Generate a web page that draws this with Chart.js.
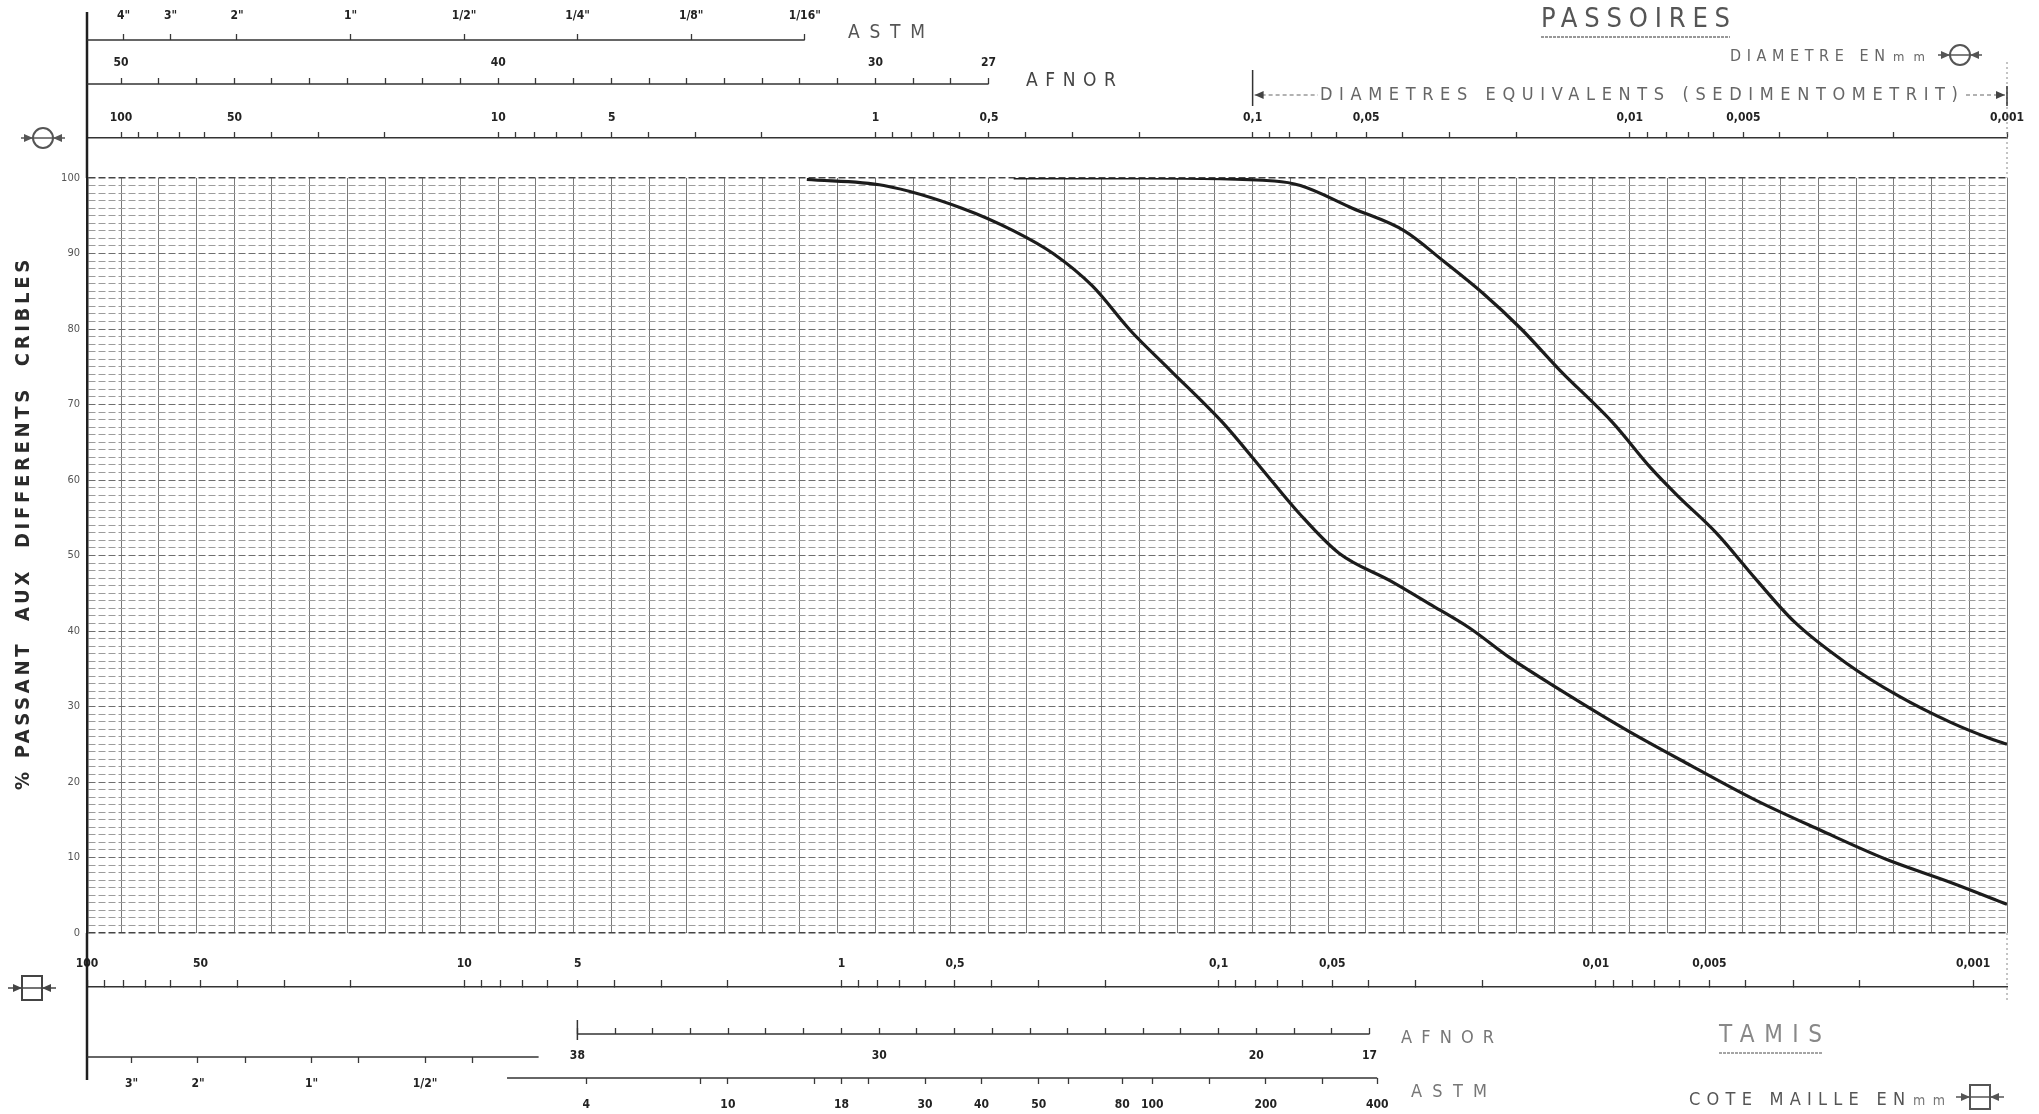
<!DOCTYPE html>
<html>
<head>
<meta charset="utf-8">
<title>Analyse granulométrique</title>
<script src="https://cdn.jsdelivr.net/npm/chart.js@4.4.1/dist/chart.umd.min.js"></script>
<style>
  html, body { margin: 0; padding: 0; background: #ffffff; }
  canvas { display: block; }
</style>
</head>
<body>
<canvas id="c" width="2039" height="1114"></canvas>
<script>
// ---- Passing percentage ticks (labelled every 10 %) ----
const percentTickLabels = [0, 10, 20, 30, 40, 50, 60, 70, 80, 90, 100];

// ---- Diameter scales (mm), labelled values ----
const mmTickLabels = [100, 50, 10, 5, 1, 0.5, 0.1, 0.05, 0.01, 0.005, 0.001];

// ---- ASTM sieves above the chart (inches) ----
const astmTopInches = [4, 3, 2, 1, 0.5, 0.25, 0.125, 0.0625];
const astmTopLabels = ['4"', '3"', '2"', '1"', '1/2"', '1/4"', '1/8"', '1/16"'];

// ---- AFNOR modules ----
const afnorTopModules = [50, 49, 48, 47, 46, 45, 44, 43, 42, 41, 40, 39, 38, 37, 36, 35, 34, 33, 32, 31, 30, 29, 28, 27];
const afnorTopLabelled = [50, 40, 30, 27];
const afnorBottomModules = [38, 37, 36, 35, 34, 33, 32, 31, 30, 29, 28, 27, 26, 25, 24, 23, 22, 21, 20, 19, 18, 17];
const afnorBottomLabelled = [38, 30, 20, 17];

// ---- ASTM sieves below the chart ----
const astmBottomInches = [3, 2, 1.5, 1, 0.75, 0.5, 0.375];
const astmBottomLabels = ['3"', '2"', '', '1"', '', '1/2"', ''];
const astmMeshNumbers  = [4, 8, 10, 16, 18, 20, 30, 40, 50, 60, 80, 100, 140, 200, 270, 400];
const astmMeshOpenings = [4.75, 2.36, 2.0, 1.18, 1.0, 0.85, 0.6, 0.425, 0.3, 0.25, 0.18, 0.15, 0.106, 0.075, 0.053, 0.038];
const astmMeshLabelled = [4, 10, 18, 30, 40, 50, 80, 100, 200, 400];

// ---- Grading curves: diameter (mm) / % passing ----
const sampleADiameters = [1.52, 0.95, 0.59, 0.43, 0.338, 0.266, 0.21, 0.165, 0.12, 0.095, 0.075, 0.059, 0.043, 0.034, 0.0266, 0.021, 0.0153, 0.0103, 0.0069, 0.00464, 0.00312, 0.0021, 0.00141, 0.001];
const sampleAPassing   = [99.8, 99, 96, 93, 90, 85.7, 79.7, 74.5, 67.6, 61.6, 55.5, 50.3, 46.6, 43.6, 40.4, 36.6, 32.2, 27, 22.2, 17.6, 13.6, 9.8, 6.7, 3.8];
const sampleBDiameters = [0.43, 0.194, 0.0876, 0.0747, 0.0544, 0.0396, 0.0312, 0.0246, 0.0194, 0.0153, 0.0111, 0.0088, 0.0075, 0.0059, 0.00464, 0.00366, 0.00266, 0.00194, 0.00141, 0.0011, 0.001];
const sampleBPassing   = [100, 100, 99.6, 99, 96, 93, 89, 84.8, 80, 74.5, 67.6, 61.6, 58, 53, 46.9, 41.2, 35.7, 31.4, 27.9, 25.7, 25];

// ---- Scale ranges ----
const FONT = "'Liberation Sans Narrow','DejaVu Sans Condensed','Roboto Condensed','Liberation Sans',Arial,sans-serif";
const gridMin = 0.001, gridMax = 123.1;     // sieve diameters above the chart, and the chart grid
const lowMin = 0.000813, lowMax = 100;      // sieve openings below the chart
const astmShift = 1.031;                    // inch row is printed a hair to the right
const inchRuleEndMm = 6.35;
const meshRuleStartMm = 7.7;

const fmtMm = v => String(v).replace('.', ',');

// mm tick marks: 1..9 x 10^k
function decadeMarks(hi, lo) {
  const out = [];
  for (let e = 2; e >= -4; e--) {
    for (let m = 9; m >= 1; m--) {
      const v = +(m * Math.pow(10, e)).toPrecision(6);
      if (v <= hi + 1e-9 && v >= lo - 1e-12) out.push(v);
    }
  }
  return out;
}
const mmMarks = decadeMarks(100, 0.001).map(v => ({ value: v, t: mmTickLabels.includes(v) ? fmtMm(v) : '' }));

// chart grid: one vertical line every tenth of a decade
const gridLines = [];
for (let k = 0; k <= 50; k++) gridLines.push(Math.pow(10, 2 - k / 10));

const astmTopMarks = astmTopInches.map((v, i) => ({ value: v * 25.4, t: astmTopLabels[i] }));
const afnorTopMarks = afnorTopModules.map(m => ({ value: Math.pow(10, (m - 30) / 10), t: afnorTopLabelled.includes(m) ? String(m) : '' }));
const afnorLowMarks = afnorBottomModules.map(m => ({ value: Math.pow(10, (m - 31) / 10), t: afnorBottomLabelled.includes(m) ? String(m) : '' }));
const astmInchMarks = astmBottomInches.map((v, i) => ({ value: v * 25.4, t: astmBottomLabels[i] }));
const astmMeshMarks = astmMeshNumbers.map((n, i) => ({ value: astmMeshOpenings[i], t: astmMeshLabelled.includes(n) ? String(n) : '' }));

// One printed scale row. Labels are mirrored (no clipping to the row box),
// and labelOffset is the vertical distance from the rule to the label centre
// (negative = above the rule).
const LH2 = 7.2; // half line height of the 12px label font
function row(position, weight, min, max, marks, height, tickLength, labelOffset, showBorder) {
  const padding = position === 'top' ? labelOffset - LH2 : -labelOffset - LH2;
  return {
    type: 'logarithmic', position, weight, reverse: true, min, max, bounds: 'data',
    afterBuildTicks: s => { s.ticks = marks.map(o => ({ value: o.value, t: o.t })); },
    afterFit: s => { s.height = height; },
    border: { display: showBorder, color: '#333333', width: 1.5 },
    grid: { drawOnChartArea: false, drawTicks: true, tickLength, tickColor: '#383838', tickWidth: 1.3 },
    ticks: {
      mirror: true, autoSkip: false, maxRotation: 0, minRotation: 0, padding,
      color: '#222222', font: { family: FONT, size: 12, weight: 'bold' },
      callback: (v, i, t) => t[i].t
    }
  };
}

function spacedText(ctx, text, x0, x1, y, font, color) {
  ctx.font = font;
  ctx.fillStyle = color;
  ctx.textBaseline = 'middle';
  ctx.textAlign = 'left';
  ctx.letterSpacing = '0px';
  const w = ctx.measureText(text).width;
  const n = [...text].length;
  const ls = n > 1 ? (x1 - x0 - w) / (n - 1) : 0;
  ctx.letterSpacing = ls.toFixed(2) + 'px';
  ctx.fillText(text, x0, y);
  ctx.letterSpacing = '0px';
}

function rule(ctx, x0, x1, y, w, col, dash) {
  ctx.save();
  ctx.strokeStyle = col; ctx.lineWidth = w; ctx.setLineDash(dash || []);
  ctx.beginPath(); ctx.moveTo(x0, y); ctx.lineTo(x1, y); ctx.stroke();
  ctx.restore();
}
function vrule(ctx, x, y0, y1, w, col, dash) {
  ctx.save();
  ctx.strokeStyle = col; ctx.lineWidth = w; ctx.setLineDash(dash || []);
  ctx.beginPath(); ctx.moveTo(x, y0); ctx.lineTo(x, y1); ctx.stroke();
  ctx.restore();
}
function arrowHead(ctx, x, y, dir, col) {
  ctx.save();
  ctx.fillStyle = col;
  ctx.beginPath();
  ctx.moveTo(x, y); ctx.lineTo(x - dir * 9, y - 4); ctx.lineTo(x - dir * 9, y + 4); ctx.closePath();
  ctx.fill();
  ctx.restore();
}
// round sieve (passoire) symbol
function passoireIcon(ctx, cx, cy, col) {
  ctx.save();
  ctx.strokeStyle = col; ctx.lineWidth = 2;
  ctx.beginPath(); ctx.arc(cx, cy, 10, 0, Math.PI * 2); ctx.stroke();
  ctx.lineWidth = 1.3;
  ctx.beginPath(); ctx.moveTo(cx - 22, cy); ctx.lineTo(cx + 22, cy); ctx.stroke();
  arrowHead(ctx, cx - 10, cy, 1, col);
  arrowHead(ctx, cx + 10, cy, -1, col);
  ctx.restore();
}
// square mesh (tamis) symbol
function tamisIcon(ctx, cx, cy, col) {
  ctx.save();
  ctx.strokeStyle = col; ctx.lineWidth = 2;
  ctx.strokeRect(cx - 10, cy - 12, 20, 24);
  ctx.lineWidth = 1.3;
  ctx.beginPath(); ctx.moveTo(cx - 24, cy); ctx.lineTo(cx + 24, cy); ctx.stroke();
  arrowHead(ctx, cx - 10, cy, 1, col);
  arrowHead(ctx, cx + 10, cy, -1, col);
  ctx.restore();
}

const decor = {
  id: 'decor',
  afterDraw(chart) {
    const { ctx, chartArea: a, scales: S } = chart;
    ctx.save();
    const ink = '#333333', soft = '#666666';

    // long form border on the left, dotted edge on the right
    vrule(ctx, a.left, 12, a.top, 2.5, '#1f1f1f');
    vrule(ctx, a.left, a.bottom, 1080, 2.5, '#1f1f1f');
    vrule(ctx, a.right, 62, a.top, 1, '#888888', [2, 3]);
    vrule(ctx, a.right, a.bottom, 1000, 1, '#888888', [2, 3]);

    // partial scale rules
    const yA = S.astmTop.bottom;
    const xAend = S.astmTop.getPixelForValue(astmTopInches[astmTopInches.length - 1] * 25.4);
    rule(ctx, a.left, xAend, yA, 1.5, ink);
    const yF = S.afnorTop.bottom;
    const xFend = S.afnorTop.getPixelForValue(afnorTopMarks[afnorTopMarks.length - 1].value);
    rule(ctx, a.left, xFend, yF, 1.5, ink);
    const yFL = S.afnorLow.top;
    rule(ctx, S.afnorLow.getPixelForValue(afnorLowMarks[0].value), S.afnorLow.getPixelForValue(afnorLowMarks[afnorLowMarks.length - 1].value), yFL, 1.5, ink);
    vrule(ctx, S.afnorLow.getPixelForValue(afnorLowMarks[0].value), yFL - 14, yFL + 6, 1.5, ink);
    const yI = S.astmInch.top;
    rule(ctx, a.left, S.astmInch.getPixelForValue(inchRuleEndMm), yI, 1.5, ink);
    const yM = S.astmMesh.top;
    rule(ctx, S.astmMesh.getPixelForValue(meshRuleStartMm), S.astmMesh.getPixelForValue(astmMeshOpenings[astmMeshOpenings.length - 1]), yM, 1.5, ink);

    // row captions
    spacedText(ctx, 'ASTM', 848, 925, 33, '19px ' + FONT, '#555555');
    spacedText(ctx, 'AFNOR', 1026, 1116, 81, '19px ' + FONT, '#444444');
    spacedText(ctx, 'PASSOIRES', 1541, 1730, 20, '27px ' + FONT, '#555555');
    rule(ctx, 1541, 1730, 37, 1.5, '#777777', [3, 1]);
    spacedText(ctx, 'DIAMETRE EN', 1730, 1885, 57, '16px ' + FONT, soft);
    spacedText(ctx, 'mm', 1893, 1925, 58, '13px ' + FONT, soft);
    passoireIcon(ctx, 1960, 55, '#555555');
    passoireIcon(ctx, 43, 138, '#555555');

    // sedimentation range bracket (0,1 mm to 0,001 mm)
    const xs0 = S.x.getPixelForValue(0.1);
    vrule(ctx, xs0, 70, 106, 1.5, ink);
    vrule(ctx, a.right, 86, 106, 1.5, ink);
    rule(ctx, xs0 + 2, 1318, 95, 1.2, soft, [4, 3]);
    arrowHead(ctx, xs0 + 2, 95, -1, '#444444');
    spacedText(ctx, 'DIAMETRES EQUIVALENTS (SEDIMENTOMETRIT)', 1320, 1958, 95, '18px ' + FONT, soft);
    rule(ctx, 1966, a.right - 2, 95, 1.2, soft, [4, 3]);
    arrowHead(ctx, a.right - 2, 95, 1, '#444444');

    // captions below the chart
    spacedText(ctx, 'AFNOR', 1401, 1494, 1038, '18px ' + FONT, '#777777');
    spacedText(ctx, 'ASTM', 1411, 1487, 1092, '18px ' + FONT, '#777777');
    spacedText(ctx, 'TAMIS', 1719, 1822, 1036, '24px ' + FONT, '#888888');
    rule(ctx, 1719, 1822, 1053, 1.5, '#888888', [3, 1]);
    spacedText(ctx, 'COTE MAILLE EN', 1689, 1905, 1100, '18px ' + FONT, '#555555');
    spacedText(ctx, 'mm', 1913, 1945, 1101, '14px ' + FONT, '#777777');
    tamisIcon(ctx, 1980, 1097, '#555555');
    tamisIcon(ctx, 32, 988, '#444444');

    // vertical axis title
    ctx.save();
    ctx.translate(24, 525);
    ctx.rotate(-Math.PI / 2);
    spacedText(ctx, '% PASSANT  AUX  DIFFERENTS  CRIBLES', -265, 265, 0, 'bold 20px ' + FONT, '#2a2a2a');
    ctx.restore();

    ctx.restore();
  }
};

new Chart(document.getElementById('c'), {
  type: 'line',
  data: {
    datasets: [
      {
        label: 'A',
        data: sampleADiameters.map((d, i) => ({ x: d, y: sampleAPassing[i] })),
        xAxisID: 'x', yAxisID: 'y',
        borderColor: '#1c1c1c', borderWidth: 3.2, pointRadius: 0, cubicInterpolationMode: 'monotone', fill: false
      },
      {
        label: 'B',
        data: sampleBDiameters.map((d, i) => ({ x: d, y: sampleBPassing[i] })),
        xAxisID: 'x', yAxisID: 'y',
        borderColor: '#1c1c1c', borderWidth: 3.2, pointRadius: 0, cubicInterpolationMode: 'monotone', fill: false
      }
    ]
  },
  options: {
    responsive: false,
    animation: false,
    devicePixelRatio: 1,
    layout: { padding: { left: 0, right: 32, top: 0, bottom: 0 } },
    plugins: { legend: { display: false }, tooltip: { enabled: false }, title: { display: false } },
    scales: {
      // rows above the chart (outermost first by weight)
      astmTop: row('top', 4, gridMin * astmShift, gridMax * astmShift, astmTopMarks, 40, 6, -24, false),
      afnorTop: row('top', 3, gridMin, gridMax, afnorTopMarks, 44, 6, -21, false),
      mmTop: row('top', 2, gridMin, gridMax, mmMarks, 54, 6, -20, true),
      x: {
        type: 'logarithmic', position: 'top', weight: 1, reverse: true, min: gridMin, max: gridMax, bounds: 'data',
        afterBuildTicks: s => { s.ticks = gridLines.map(v => ({ value: v })); },
        afterFit: s => { s.height = 40; },
        ticks: { display: false, autoSkip: false },
        grid: { drawTicks: false, color: '#7a7a7a', lineWidth: 1 },
        border: { display: false }
      },
      // rows below the chart (innermost first by weight)
      gap: {
        type: 'linear', position: 'bottom', weight: 1,
        afterFit: s => { s.height = 54; },
        ticks: { display: false }, grid: { display: false }, border: { display: false }
      },
      mmLow: row('bottom', 2, lowMin, lowMax, mmMarks, 47, -7, -23, true),
      afnorLow: row('bottom', 3, lowMin, lowMax, afnorLowMarks, 23, -6, 22, false),
      astmInch: row('bottom', 4, lowMin, lowMax, astmInchMarks, 21, 6, 27, false),
      astmMesh: row('bottom', 5, lowMin, lowMax, astmMeshMarks, 36, 6, 27, false),
      y: {
        type: 'linear', position: 'left', min: 0, max: 100,
        afterBuildTicks: s => { const t = []; for (let v = 0; v <= 100; v++) t.push({ value: v }); s.ticks = t; },
        afterFit: s => { s.width = 87; },
        ticks: {
          autoSkip: false, padding: 7, color: '#555555', font: { family: FONT, size: 11 },
          callback: v => percentTickLabels.includes(v) ? String(v) : ''
        },
        grid: {
          drawTicks: false,
          color: c => (c.tick && (c.tick.value === 0 || c.tick.value === 100)) ? '#444444' : (c.tick && c.tick.value % 10 === 0 ? '#6e6e6e' : '#9c9c9c'),
          lineWidth: c => (c.tick && (c.tick.value === 0 || c.tick.value === 100)) ? 1.6 : 1
        },
        border: { display: true, color: '#1f1f1f', width: 2.5, dash: [7, 3] }
      }
    }
  },
  plugins: [decor]
});
</script>
</body>
</html>
